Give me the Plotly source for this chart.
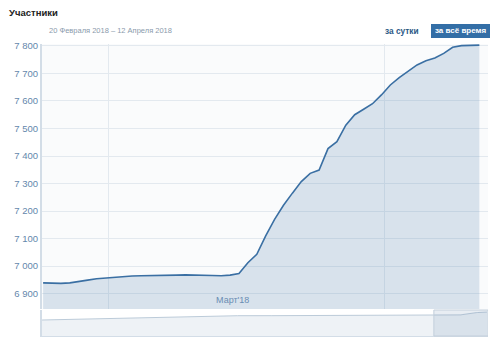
import pandas as pd
import plotly.graph_objects as go

# Daily member counts for the visible period
dates = pd.date_range("2018-02-21 17:00", periods=50, freq="D")
members = [6939, 6938, 6937, 6939, 6943, 6949, 6954, 6957, 6960, 6962,
           6964, 6965, 6965, 6965, 6966, 6967, 6968, 6968, 6967, 6966,
           6965, 6967, 6973, 7012, 7043, 7110, 7170, 7221, 7265, 7307,
           7337, 7349, 7427, 7452, 7512, 7550, 7570, 7590, 7622, 7658,
           7685, 7708, 7731, 7746, 7756, 7773, 7795, 7801, 7802, 7803]

# Longer history shown in the navigator strip
history_dates = ["2017-02-24", "2017-03-24", "2017-04-24", "2017-05-24",
                 "2017-06-24", "2017-07-24", "2017-08-24", "2017-09-24",
                 "2017-10-24", "2017-11-24", "2017-12-24", "2018-01-24"]
history_members = [5850, 6020, 6190, 6380, 6580, 6890, 6910, 6918,
                   6924, 6928, 6932, 6936]

y_ticks = [6900, 7000, 7100, 7200, 7300, 7400, 7500, 7600, 7700, 7800]
y_tick_labels = ["6 900", "7 000", "7 100", "7 200", "7 300",
                 "7 400", "7 500", "7 600", "7 700", "7 800"]
month_starts = ["2018-03-01", "2018-04-01"]
month_label_pos = ["2018-03-15"]
month_labels = ["Март'18"]

title = "Участники"
period_text = "20 Февраля 2018 – 12 Апреля 2018"
btn_day = "за сутки"
btn_all = "за всё время"

view_start = "2018-02-21 14:00"
view_end = "2018-04-12 16:20"
nav_start = "2017-02-23 23:00"

FONT = "Liberation Sans"
W, H = 500, 340
L, R, T, B = 42, 12, 44, 4
PW, PH = W - L - R, H - T - B


def px(x):
    return (x - L) / PW


def py(y):
    return (H - B - y) / PH


nav_x = list(pd.to_datetime(history_dates)) + list(dates)
nav_y = history_members + members

fig = go.Figure()
fig.add_trace(go.Scatter(
    x=dates, y=members, mode="lines",
    line=dict(color="#3a6fa3", width=1.6),
    fill="tozeroy", fillcolor="rgba(80,130,175,0.2)",
    xaxis="x", yaxis="y", hoverinfo="skip", showlegend=False))
fig.add_trace(go.Scatter(
    x=nav_x, y=nav_y, mode="lines",
    line=dict(color="#bccbd9", width=1),
    fill="tozeroy", fillcolor="#eef2f6",
    xaxis="x2", yaxis="y2", hoverinfo="skip", showlegend=False))

grid = "#e3e9ef"
axis_line = "#d3dde7"
tick_font = dict(family=FONT, size=9.5, color="#6487ac")

fig.update_layout(
    width=W, height=H,
    margin=dict(l=L, r=R, t=T, b=B),
    paper_bgcolor="white", plot_bgcolor="#fafbfc",
    font=dict(family=FONT),
    xaxis=dict(
        domain=[0, 1], anchor="y", type="date",
        range=[view_start, view_end],
        showgrid=False, zeroline=False, showline=False,
        tickvals=month_label_pos, ticktext=month_labels,
        ticklabelposition="inside", ticks="", ticklabelstandoff=1,
        tickfont=dict(family=FONT, size=9, color="#6a8db3"),
        minor=dict(tickvals=month_starts, showgrid=True,
                   gridcolor=grid, gridwidth=1, ticks=""),
    ),
    yaxis=dict(
        domain=[py(309), 1], anchor="x",
        range=[6844, 7807],
        tickvals=y_ticks, ticktext=y_tick_labels,
        showgrid=True, gridcolor=grid, gridwidth=1,
        zeroline=False, showline=True, linecolor=axis_line, linewidth=2,
        ticks="", tickfont=tick_font,
    ),
    xaxis2=dict(
        domain=[0, 1], anchor="y2", type="date",
        range=[nav_start, view_end],
        showgrid=False, zeroline=False, showticklabels=False,
        showline=True, linecolor=axis_line, linewidth=1, ticks="",
    ),
    yaxis2=dict(
        domain=[0, py(310)], anchor="x2",
        range=[1915, 8315],
        showgrid=False, zeroline=False, showticklabels=False,
        showline=True, linecolor=axis_line, linewidth=2, ticks="",
    ),
    shapes=[
        # white background of the navigator strip
        dict(type="rect", xref="x2 domain", yref="y2 domain",
             x0=0, x1=1, y0=0, y1=1, fillcolor="white",
             line=dict(width=0), layer="below"),
        # selected window in the navigator
        dict(type="rect", xref="x2", yref="y2 domain",
             x0=view_start, x1=view_end, y0=0, y1=1,
             fillcolor="rgba(110,145,180,0.16)",
             line=dict(color="#c3cfdb", width=1), layer="above"),
        # active period button
        dict(type="rect", xref="paper", yref="paper",
             x0=px(431), x1=px(490), y0=py(38), y1=py(24),
             fillcolor="#336ea6", line=dict(width=0)),
    ],
    annotations=[
        dict(text=f"<b>{title}</b>", xref="paper", yref="paper",
             x=px(7), y=py(13), xanchor="left", yanchor="middle",
             showarrow=False, font=dict(family=FONT, size=9.5, color="#222222")),
        dict(text=period_text, xref="paper", yref="paper",
             x=px(47), y=py(31), xanchor="left", yanchor="middle",
             showarrow=False, font=dict(family=FONT, size=7.5, color="#8a9aab")),
        dict(text=f"<b>{btn_day}</b>", xref="paper", yref="paper",
             x=px(421), y=py(31), xanchor="right", yanchor="middle",
             showarrow=False, font=dict(family=FONT, size=8.3, color="#2a5885")),
        dict(text=f"<b>{btn_all}</b>", xref="paper", yref="paper",
             x=px(460.5), y=py(31), xanchor="center", yanchor="middle",
             showarrow=False, font=dict(family=FONT, size=8, color="white")),
    ],
)

fig.write_html("out.html")
